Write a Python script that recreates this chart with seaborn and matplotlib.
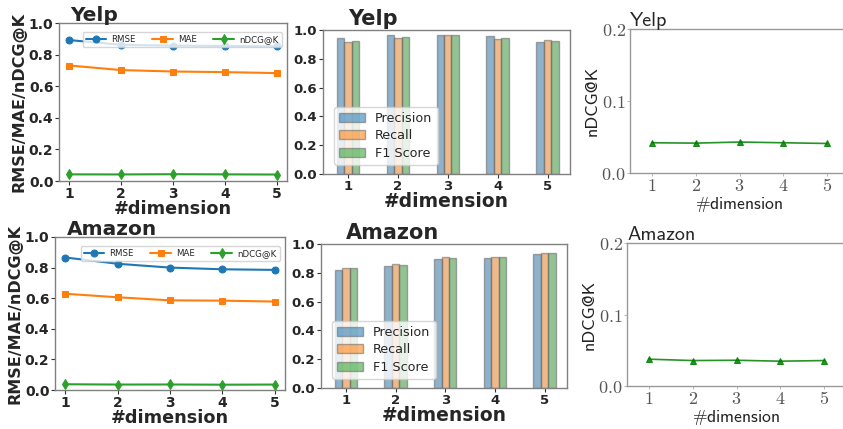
import matplotlib
matplotlib.use("Agg")
import matplotlib.pyplot as plt
from matplotlib.patches import Patch
import seaborn as sns
import pandas as pd

# ---------------- data ----------------
dims = [1, 2, 3, 4, 5]
dim_labels = ["1", "2", "3", "4", "5"]

yelp_rmse = [0.892, 0.862, 0.857, 0.855, 0.852]
yelp_mae = [0.731, 0.702, 0.693, 0.689, 0.683]
yelp_ndcg = [0.042, 0.0415, 0.043, 0.042, 0.041]
yelp_precision = [0.942, 0.963, 0.968, 0.961, 0.917]
yelp_recall = [0.919, 0.947, 0.968, 0.935, 0.928]
yelp_f1 = [0.926, 0.954, 0.968, 0.947, 0.924]

amazon_rmse = [0.866, 0.825, 0.800, 0.789, 0.785]
amazon_mae = [0.629, 0.606, 0.586, 0.584, 0.578]
amazon_ndcg = [0.0375, 0.0356, 0.036, 0.0347, 0.0356]
amazon_precision = [0.821, 0.849, 0.898, 0.905, 0.928]
amazon_recall = [0.835, 0.858, 0.907, 0.912, 0.940]
amazon_f1 = [0.831, 0.856, 0.900, 0.907, 0.935]

metric_names = ["Precision", "Recall", "F1 Score"]
line_names = ["RMSE", "MAE", "nDCG@K"]

sns.set_style("white")
plt.rcParams["font.family"] = ["DejaVu Sans"]
plt.rcParams["mathtext.fontset"] = "cm"

C_BLUE, C_ORANGE, C_GREEN = "#1f77b4", "#ff7f0e", "#2ca02c"
SPINE = "#808080"

W, H = 843, 429
fig = plt.figure(figsize=(W / 100, H / 100), dpi=100)


def ax_px(left, right, top, bottom):
    return fig.add_axes([left / W, (H - bottom) / H, (right - left) / W, (bottom - top) / H])


def style_spines(ax):
    for s in ax.spines.values():
        s.set_color(SPINE)
        s.set_linewidth(1.0)


def line_panel(ax, title, rmse, mae, ndcg):
    sns.lineplot(x=dims, y=rmse, marker="o", markersize=5, color=C_BLUE, label=line_names[0],
                 ax=ax, markeredgecolor=C_BLUE, linewidth=1.5)
    sns.lineplot(x=dims, y=mae, marker="s", markersize=5, color=C_ORANGE, label=line_names[1],
                 ax=ax, markeredgecolor=C_ORANGE, linewidth=1.5)
    sns.lineplot(x=dims, y=ndcg, marker="d", markersize=5, color=C_GREEN, label=line_names[2],
                 ax=ax, markeredgecolor=C_GREEN, linewidth=1.5)
    ax.set_ylim(0, 1.0)
    ax.set_xlim(0.8, 5.2)
    ax.set_xticks(dims)
    ax.set_xticklabels(dim_labels)
    ax.set_yticks([0, 0.2, 0.4, 0.6, 0.8, 1.0])
    ax.set_yticklabels(["0.0", "0.2", "0.4", "0.6", "0.8", "1.0"])
    for lab in ax.get_xticklabels() + ax.get_yticklabels():
        lab.set_fontweight("bold")
        lab.set_fontsize(10)
    ax.tick_params(axis="both", length=3, width=0.8, color="#333333", pad=1,
                   bottom=True, left=True)
    ax.set_xlabel("#dimension", fontsize=12.7, fontweight="bold", labelpad=-0.5)
    ax.set_ylabel("RMSE/MAE/nDCG@K", fontsize=11.5, fontweight="bold", labelpad=2)
    ax.text(0.05, 0.985, title, transform=ax.transAxes, fontsize=14.5, fontweight="bold",
            va="bottom", ha="left")
    ax.legend(loc="upper right", ncol=3, fontsize=6.2, handlelength=2.4, handletextpad=0.6,
              columnspacing=1.9, borderpad=0.35, bbox_to_anchor=(0.995, 0.97), frameon=True)
    style_spines(ax)


def bar_panel(ax, title, p, r, f):
    df = pd.DataFrame({
        "dim": dim_labels * 3,
        "value": p + r + f,
        "metric": [metric_names[0]] * 5 + [metric_names[1]] * 5 + [metric_names[2]] * 5,
    })
    sns.barplot(data=df, x="dim", y="value", hue="metric", hue_order=metric_names,
                order=dim_labels, palette=[C_BLUE, C_ORANGE, C_GREEN], width=0.45,
                alpha=0.55, edgecolor="#666666", linewidth=1.0, errorbar=None, ax=ax,
                legend=False)
    ax.set_ylim(0, 1.0)
    ax.set_xlim(-0.5, 4.45)
    ax.set_yticks([0, 0.2, 0.4, 0.6, 0.8, 1.0])
    ax.set_yticklabels(["0.0", "0.2", "0.4", "0.6", "0.8", "1.0"])
    for lab in ax.get_xticklabels() + ax.get_yticklabels():
        lab.set_fontweight("bold")
        lab.set_fontsize(9.5)
    ax.tick_params(axis="both", length=3, width=0.8, color="#333333", pad=1.5,
                   bottom=True, left=True)
    ax.set_xlabel("#dimension", fontsize=13.5, fontweight="bold", labelpad=-1)
    ax.set_ylabel("")
    ax.text(0.1, 1.01, title, transform=ax.transAxes, fontsize=15, fontweight="bold",
            va="bottom", ha="left")
    handles = [Patch(facecolor=c, alpha=0.55, edgecolor="#666666", linewidth=1.0)
               for c in (C_BLUE, C_ORANGE, C_GREEN)]
    ax.legend(handles, metric_names, loc="lower left", fontsize=9.2,
              bbox_to_anchor=(0.02, 0.02), borderpad=0.4, labelspacing=0.35)
    style_spines(ax)


def ndcg_panel(ax, title, ndcg):
    sns.lineplot(x=dims, y=ndcg, marker="^", markersize=4, color="green",
                 markeredgecolor="green", linewidth=1.2, ax=ax)
    ax.lines[-1].set_alpha(0.85)
    ax.set_ylim(0, 0.2)
    ax.set_xlim(0.5, 5.5)
    ax.set_xticks(dims)
    ax.set_xticklabels([f"${d}$" for d in dim_labels], fontsize=13, color="#555555")
    ax.set_yticks([0, 0.1, 0.2])
    ax.set_yticklabels(["$0.0$", "$0.1$", "$0.2$"], fontsize=13, color="#555555")
    ax.tick_params(axis="both", length=2, width=0.6, color="#aaaaaa", pad=1,
                   bottom=True, left=True)
    ax.set_xlabel(r"$\#$dimension", fontsize=12.7, family="cmss10", color="#222222", labelpad=0)
    ax.set_ylabel("nDCG@K", fontsize=13, family="cmss10", color="#222222", labelpad=1)
    ax.set_title(title, loc="left", fontsize=14.5, family="cmss10", pad=2)
    for side in ("top", "right", "left", "bottom"):
        ax.spines[side].set_color("#999999")
        ax.spines[side].set_linewidth(1.0)


ax1 = ax_px(59, 287, 23, 181)
line_panel(ax1, "Yelp", yelp_rmse, yelp_mae, yelp_ndcg)
ax2 = ax_px(323, 570, 30, 174)
bar_panel(ax2, "Yelp", yelp_precision, yelp_recall, yelp_f1)
ax3 = ax_px(630, 849, 29, 173)
ndcg_panel(ax3, "Yelp", yelp_ndcg)

ax4 = ax_px(55, 285, 237, 390)
line_panel(ax4, "Amazon", amazon_rmse, amazon_mae, amazon_ndcg)
ax5 = ax_px(321, 567, 244, 388)
bar_panel(ax5, "Amazon", amazon_precision, amazon_recall, amazon_f1)
ax6 = ax_px(627, 846, 243, 386)
ndcg_panel(ax6, "Amazon", amazon_ndcg)

fig.savefig("out.png", dpi=100)
